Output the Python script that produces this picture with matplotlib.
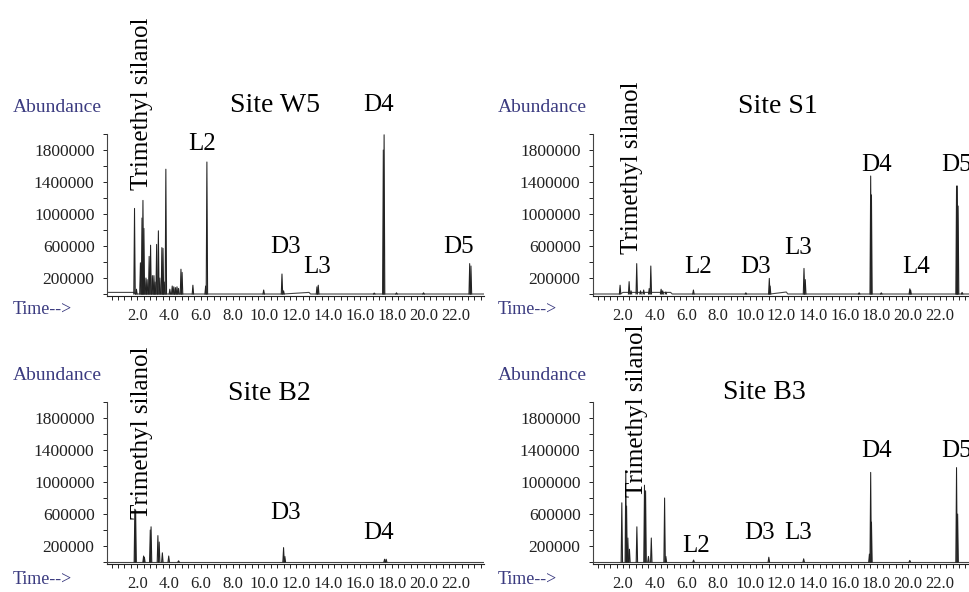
import matplotlib.pyplot as plt
import numpy as np
from matplotlib.ticker import MultipleLocator, FixedLocator

plt.rcParams['font.family'] = ['Liberation Serif', 'DejaVu Serif']

# Пики хроматограм: час утримання (хв) та висота (abundance)
w5_rt = [1.83, 1.95, 2.20, 2.30, 2.36, 2.42, 2.55, 2.62, 2.75, 2.84, 2.95, 3.05, 3.12,
         3.22, 3.33, 3.42, 3.55, 3.62, 3.70, 3.80, 4.05, 4.20, 4.30, 4.40, 4.50, 4.60,
         4.75, 4.82, 5.50, 6.30, 6.38, 9.95, 11.10, 11.20, 13.30, 13.38, 16.90,
         17.47, 17.52, 18.30, 20.00, 22.90, 22.98]
w5_h = [1070000, 60000, 390000, 950000, 1170000, 820000, 200000, 180000, 470000, 610000,
        230000, 230000, 150000, 620000, 790000, 200000, 580000, 570000, 150000, 1560000,
        60000, 100000, 90000, 80000, 90000, 70000, 310000, 270000, 110000, 100000,
        1650000, 50000, 250000, 40000, 90000, 110000, 12000, 1800000, 1990000, 15000,
        15000, 380000, 350000]

s1_rt = [1.81, 2.38, 2.50, 2.86, 3.10, 3.30, 3.65, 3.75, 4.40, 4.50, 4.70, 6.44, 9.75,
         11.23, 11.28, 13.42, 13.50, 16.90, 17.63, 17.68, 18.30, 20.10, 20.15,
         23.05, 23.10, 23.15, 23.40]
s1_h = [110000, 155000, 40000, 380000, 40000, 50000, 70000, 350000, 60000, 40000, 25000,
        50000, 15000, 195000, 100000, 320000, 180000, 15000, 1475000, 1240000, 15000,
        65000, 50000, 1350000, 1350000, 1100000, 20000]

b2_rt = [1.85, 1.90, 2.40, 2.45, 2.82, 2.87, 3.30, 3.38, 3.58, 3.98, 4.60,
         11.20, 11.28, 17.55, 17.65]
b2_h = [660000, 650000, 75000, 60000, 400000, 440000, 330000, 250000, 115000, 75000,
        15000, 180000, 70000, 35000, 35000]

b3_rt = [1.92, 2.17, 2.22, 2.30, 2.40, 2.87, 3.35, 3.42, 3.60, 3.78, 4.62, 4.70, 6.45,
         11.20, 13.40, 17.55, 17.63, 17.68, 20.10, 23.05, 23.12]
b3_h = [740000, 1140000, 700000, 300000, 160000, 440000, 960000, 890000, 70000, 300000,
        800000, 70000, 25000, 60000, 40000, 100000, 1120000, 500000, 20000, 1180000, 600000]

# Базова лінія (трохи піднята на початку запису)
w5_base_t = [0.1, 1.8, 1.9, 11.2, 12.8, 12.9, 23.8]
w5_base_v = [20000, 20000, 0, 0, 20000, 0, 0]
s1_base_t = [0.1, 1.8, 2.0, 5.0, 5.1, 11.3, 12.3, 12.4, 23.9]
s1_base_v = [0, 0, 20000, 20000, 0, 0, 25000, 0, 0]
b2_base_t = [0.1, 23.8]
b2_base_v = [0, 0]
b3_base_t = [0.1, 23.9]
b3_base_v = [0, 0]

sites = ['Site W5', 'Site S1', 'Site B2', 'Site B3']
y_ticks = [200000, 600000, 1000000, 1400000, 1800000]
x_ticks = [2.0, 4.0, 6.0, 8.0, 10.0, 12.0, 14.0, 16.0, 18.0, 20.0, 22.0]

W, H = 969, 592
fig = plt.figure(figsize=(W / 100, H / 100), dpi=100)

label_col = '#3b3b80'
tick_col = '#222222'


def px_axes(left, top, right, bottom):
    return fig.add_axes([left / W, 1 - bottom / H, (right - left) / W, (bottom - top) / H])


def draw_panel(ax, rt, h, base_t, base_v):
    ax.plot(base_t, base_v, color='#444444', lw=0.8)
    hw = 0.045
    for t, v in zip(rt, h):
        xs = [t - hw, t, t + hw]
        ys = [0, v, 0]
        ax.fill(xs, ys, color='#888888', lw=0)
        ax.plot(xs, ys, color='#222222', lw=0.75)
    ax.set_ylim(-25000, 2000000)
    ax.spines['top'].set_visible(False)
    ax.spines['right'].set_visible(False)
    ax.spines['left'].set_color('#444444')
    ax.spines['bottom'].set_color('#222222')
    ax.yaxis.set_major_locator(FixedLocator(y_ticks))
    ax.yaxis.set_minor_locator(MultipleLocator(200000))
    ax.set_yticklabels([str(v) for v in y_ticks])
    ax.xaxis.set_major_locator(FixedLocator(x_ticks))
    ax.xaxis.set_minor_locator(MultipleLocator(0.4))
    ax.set_xticklabels([f'{v:.1f}' for v in x_ticks])
    ax.tick_params(axis='y', which='both', length=3, width=0.7, pad=6,
                   labelsize=12.5, colors=tick_col)
    ax.tick_params(axis='x', which='both', length=3, width=0.7, pad=5.5,
                   labelsize=12, colors=tick_col)
    ax.set_facecolor('none')


axes = [
    px_axes(107, 134, 484, 296),
    px_axes(593, 134, 970, 296),
    px_axes(107, 402, 484, 564),
    px_axes(593, 402, 970, 564),
]
axes[0].set_xlim(0.1, 23.8)
axes[1].set_xlim(0.1, 23.9)
axes[2].set_xlim(0.1, 23.8)
axes[3].set_xlim(0.1, 23.9)

draw_panel(axes[0], w5_rt, w5_h, w5_base_t, w5_base_v)
draw_panel(axes[1], s1_rt, s1_h, s1_base_t, s1_base_v)
draw_panel(axes[2], b2_rt, b2_h, b2_base_t, b2_base_v)
draw_panel(axes[3], b3_rt, b3_h, b3_base_t, b3_base_v)

# Підписи піків: (текст, час, висота)
ann = [
    [('L2', 6.09, 1875000), ('D3', 11.31, 591000), ('L3', 13.3, 341000),
     ('D4', 17.16, 2360000), ('D5', 22.2, 591000)],
    [('L2', 6.73, 341000), ('D3', 10.33, 341000), ('L3', 13.04, 571000),
     ('D4', 18.0, 1610000), ('L4', 20.49, 341000), ('D5', 23.07, 1610000)],
    [('D3', 11.31, 616000), ('D4', 17.16, 366000)],
    [('L2', 6.59, 200000), ('D3', 10.64, 366000), ('L3', 13.04, 366000),
     ('D4', 18.0, 1390000), ('D5', 23.07, 1390000)],
]
silanol_pos = [(2.31, 2375000), (2.57, 1580000), (2.31, 1620000), (2.88, 1890000)]
title_pos = [(10.68, 2350000), (11.78, 2340000), (10.3, 2100000), (10.9, 2120000)]

for ax, items, sp, tp, name in zip(axes, ann, silanol_pos, title_pos, sites):
    for txt, t, v in items:
        ax.text(t, v, txt, ha='center', va='center', fontsize=18, clip_on=False)
    ax.text(sp[0], sp[1], 'Trimethyl silanol', rotation=90, ha='center', va='center',
            fontsize=18, clip_on=False)
    ax.text(tp[0], tp[1], name, ha='center', va='center', fontsize=20, clip_on=False)

for x0 in (13, 498):
    for yc in (107, 376):
        fig.text(x0 / W, 1 - yc / H, 'Abundance', color=label_col, fontsize=14,
                 ha='left', va='center')
    for yc in (310, 579):
        fig.text(x0 / W, 1 - yc / H, 'Time-->', color=label_col, fontsize=13,
                 ha='left', va='center')

fig.savefig('out.png', dpi=100)
